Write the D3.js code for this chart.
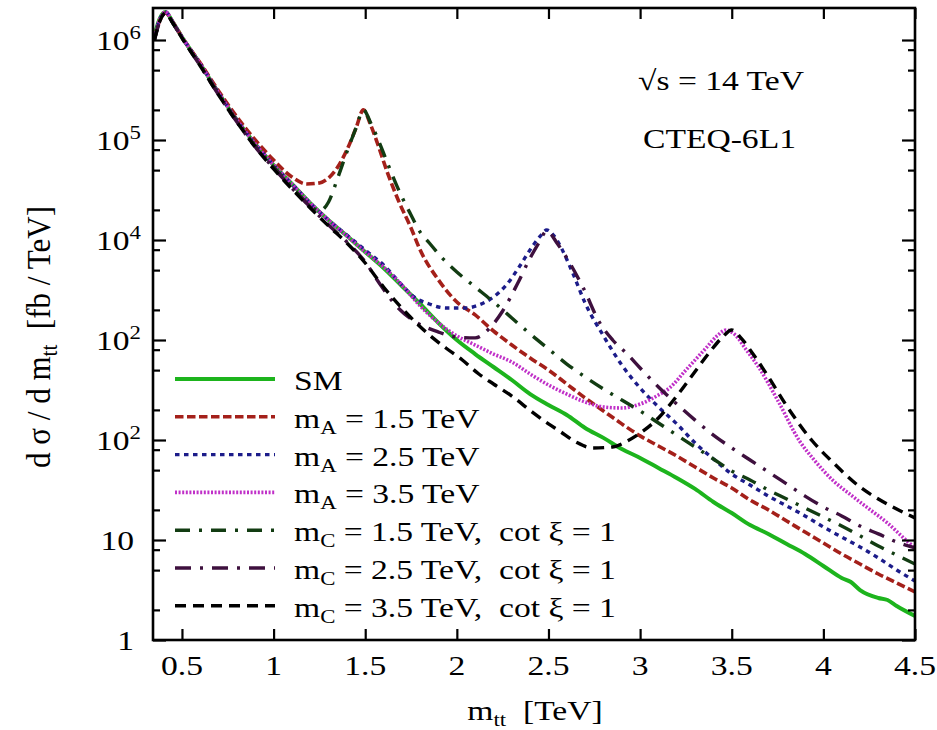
<!DOCTYPE html>
<html>
<head>
<meta charset="utf-8">
<script src="https://cdn.jsdelivr.net/npm/d3@7"></script>
<style>
  html, body { margin: 0; padding: 0; background: #fff; }
  text { font-family: "Liberation Serif", "Times New Roman", serif; white-space: pre; fill: #000; }
</style>
</head>
<body>
<svg id="chart" width="937" height="730"></svg>
<script>
// ---------- data: d sigma / d m_tt  [fb/TeV] versus m_tt [TeV] ----------
const smMass = [0.35,0.38,0.41,0.45,0.5,0.6,0.7,0.8,0.9,1.0,1.1,1.2,1.3,1.4,1.5,1.6,1.7,1.8,1.9,2.0,2.1,2.2,2.3,2.4,2.5,2.6,2.7,2.8,2.9,3.0,3.1,3.2,3.3,3.4,3.5,3.6,3.7,3.8,3.9,4.0,4.1,4.15,4.2,4.3,4.35,4.4,4.5];
const smXsec = [1.12e6,1.66e6,1.91e6,1.51e6,1.07e6,5.75e5,2.95e5,1.58e5,9.12e4,5.62e4,3.63e4,2.34e4,1.58e4,1.10e4,7.59e3,5.25e3,3.47e3,2.29e3,1.48e3,1.00e3,724,537,398,288,224,178,132,105,81.3,66.1,52.5,41.7,32.4,24.0,18.6,14.1,11.5,9.12,7.24,5.50,4.17,3.80,3.16,2.63,2.51,2.19,1.74];

const mA15Mass = [0.35,0.38,0.41,0.45,0.5,0.6,0.7,0.8,0.9,1.0,1.1,1.18,1.25,1.3,1.35,1.4,1.45,1.49,1.53,1.57,1.62,1.68,1.75,1.8,1.9,2.0,2.1,2.2,2.3,2.4,2.5,2.6,2.7,2.8,2.9,3.0,3.1,3.2,3.3,3.4,3.5,3.6,3.7,3.8,3.9,4.0,4.1,4.2,4.3,4.4,4.5];
const mA15Xsec = [1.05e6,1.58e6,1.86e6,1.51e6,1.07e6,5.89e5,3.09e5,1.70e5,1.00e5,6.31e4,4.27e4,3.63e4,3.72e4,4.17e4,5.37e4,7.94e4,1.32e5,2.00e5,1.41e5,8.91e4,4.79e4,2.51e4,1.32e4,7.94e3,3.98e3,2.40e3,1.78e3,1.23e3,891,661,501,363,263,195,145,110,87.1,69.2,53.7,41.7,33.1,25.1,20.0,15.5,12.0,9.33,7.24,5.75,4.57,3.72,3.02];

const mA25Mass = [0.35,0.38,0.41,0.45,0.5,0.6,0.7,0.8,0.9,1.0,1.1,1.2,1.3,1.4,1.5,1.6,1.7,1.76,1.85,1.94,2.05,2.12,2.2,2.27,2.34,2.41,2.46,2.49,2.53,2.57,2.63,2.7,2.8,2.9,3.0,3.1,3.2,3.3,3.4,3.5,3.6,3.7,3.8,3.9,4.0,4.1,4.2,4.3,4.4,4.5];
const mA25Xsec = [1.10e6,1.62e6,1.91e6,1.51e6,1.07e6,5.75e5,2.95e5,1.58e5,9.12e4,5.62e4,3.63e4,2.34e4,1.58e4,1.12e4,7.94e3,5.62e3,3.55e3,2.75e3,2.29e3,2.09e3,2.09e3,2.24e3,2.69e3,3.55e3,5.37e3,8.51e3,1.12e4,1.26e4,1.10e4,8.32e3,4.79e3,2.34e3,1.10e3,562,331,214,145,93.3,64.6,45.7,35.5,27.5,21.9,17.4,13.5,10.7,8.51,6.61,5.01,3.89];

const mA35Mass = [0.35,0.38,0.41,0.45,0.5,0.6,0.7,0.8,0.9,1.0,1.1,1.2,1.3,1.4,1.5,1.6,1.7,1.8,1.9,2.0,2.1,2.2,2.3,2.4,2.5,2.6,2.7,2.8,2.9,3.0,3.1,3.16,3.25,3.36,3.42,3.47,3.52,3.58,3.65,3.75,3.87,3.95,4.05,4.15,4.25,4.35,4.45,4.5];
const mA35Xsec = [1.07e6,1.62e6,1.91e6,1.51e6,1.07e6,5.75e5,2.95e5,1.58e5,9.12e4,5.62e4,3.63e4,2.34e4,1.58e4,1.10e4,7.59e3,5.37e3,3.55e3,2.19e3,1.48e3,1.10e3,891,724,603,457,355,288,240,214,209,229,282,331,501,832,1.10e3,1.26e3,1.12e3,794,525,251,97.7,63.1,39.8,28.2,20.4,14.8,10.0,8.32];

const mC15Mass = [0.35,0.38,0.41,0.45,0.5,0.6,0.7,0.8,0.9,1.0,1.1,1.2,1.25,1.3,1.35,1.4,1.45,1.49,1.53,1.58,1.63,1.69,1.75,1.8,1.85,1.91,2.0,2.1,2.2,2.3,2.4,2.5,2.6,2.7,2.8,2.9,3.0,3.1,3.2,3.3,3.4,3.5,3.6,3.7,3.8,3.9,4.0,4.1,4.2,4.3,4.4,4.5];
const mC15Xsec = [1.00e6,1.58e6,1.86e6,1.48e6,1.05e6,5.62e5,2.88e5,1.55e5,8.71e4,5.37e4,3.39e4,2.19e4,1.95e4,2.40e4,4.17e4,7.59e4,1.32e5,2.00e5,1.48e5,9.12e4,5.37e4,2.95e4,1.78e4,1.20e4,9.33e3,6.92e3,4.79e3,3.39e3,2.40e3,1.66e3,1.15e3,813,575,427,324,251,195,148,112,85.1,64.6,49.0,39.8,31.6,25.7,20.9,17.0,13.8,11.0,8.71,7.08,5.75];

const mC25Mass = [0.35,0.38,0.41,0.45,0.5,0.6,0.7,0.8,0.9,1.0,1.1,1.2,1.3,1.4,1.5,1.58,1.68,1.76,1.9,2.0,2.1,2.18,2.25,2.33,2.4,2.45,2.49,2.55,2.6,2.69,2.78,2.85,2.93,3.0,3.1,3.2,3.3,3.4,3.5,3.6,3.7,3.8,3.9,4.0,4.1,4.2,4.3,4.4,4.5];
const mC25Xsec = [1.00e6,1.55e6,1.86e6,1.48e6,1.05e6,5.50e5,2.82e5,1.51e5,8.51e4,5.25e4,3.31e4,2.14e4,1.41e4,9.55e3,6.03e3,3.63e3,2.09e3,1.58e3,1.20e3,1.07e3,1.05e3,1.32e3,1.95e3,3.63e3,6.61e3,9.55e3,1.23e4,9.12e3,6.61e3,3.31e3,1.48e3,1.00e3,724,525,339,229,158,112,83.2,63.1,47.9,36.3,27.5,21.4,17.4,13.8,11.5,9.55,8.32];

const mC35Mass = [0.35,0.38,0.41,0.45,0.5,0.6,0.7,0.8,0.9,1.0,1.1,1.2,1.3,1.4,1.5,1.6,1.73,1.85,1.94,2.03,2.12,2.2,2.3,2.41,2.5,2.56,2.65,2.74,2.85,2.93,3.0,3.1,3.2,3.29,3.38,3.45,3.5,3.55,3.62,3.69,3.8,3.94,4.05,4.2,4.3,4.4,4.5];
const mC35Xsec = [1.00e6,1.55e6,1.86e6,1.48e6,1.05e6,5.50e5,2.82e5,1.51e5,8.51e4,5.13e4,3.24e4,2.09e4,1.38e4,9.33e3,5.89e3,3.39e3,1.82e3,1.12e3,832,631,457,363,275,191,145,123,95.5,83.2,85.1,97.7,117,166,275,457,759,1.07e3,1.26e3,1.05e3,708,457,219,97.7,60.3,33.9,25.7,20.4,16.6];

// axis ticks and their printed labels
const xTickValues = [0.5, 1, 1.5, 2, 2.5, 3, 3.5, 4, 4.5];
const xTickLabels = ["0.5", "1", "1.5", "2", "2.5", "3", "3.5", "4", "4.5"];
const yTickValues = [1, 10, 100, 1000, 1e4, 1e5, 1e6];
const yTickBase   = ["1", "10", "10", "10", "10", "10", "10"];
const yTickExp    = ["",  "",   "2",  "2",  "4",  "5",  "6"];
const yMinorValues = [2,5,8, 20,50,80, 200,500,800, 2e3,5e3,8e3, 2e4,5e4,8e4, 2e5,5e5,8e5];

// legend entries: [main text, subscript, trailing text]
const legendLabels = [
  ["SM", "", ""],
  ["m", "A", " = 1.5 TeV"],
  ["m", "A", " = 2.5 TeV"],
  ["m", "A", " = 3.5 TeV"],
  ["m", "C", " = 1.5 TeV,  cot \u03BE = 1"],
  ["m", "C", " = 2.5 TeV,  cot \u03BE = 1"],
  ["m", "C", " = 3.5 TeV,  cot \u03BE = 1"]
];

// ---------- drawing ----------
const seriesData = [
  [smMass, smXsec], [mA15Mass, mA15Xsec], [mA25Mass, mA25Xsec], [mA35Mass, mA35Xsec],
  [mC15Mass, mC15Xsec], [mC25Mass, mC25Xsec], [mC35Mass, mC35Xsec]
];
const seriesStyle = [
  { color: "#1db41d", dash: null,          width: 4.0 },
  { color: "#a4201a", dash: "8.5,3.5",     width: 3.6 },
  { color: "#1c1c8a", dash: "4.5,4.5",     width: 3.4 },
  { color: "#c030c8", dash: "2,1.6",       width: 3.6 },
  { color: "#123c12", dash: "15,9,3,9",    width: 3.4 },
  { color: "#3e103e", dash: "16,9,3,9",    width: 3.4 },
  { color: "#000000", dash: "11,7",        width: 3.4 }
];

const svg = d3.select("#chart");
svg.append("rect").attr("width", 937).attr("height", 730).attr("fill", "#fff");

const plot = { left: 153, right: 915, top: 8, bottom: 640 };
const x = d3.scaleLinear().domain([0.342, 4.5]).range([plot.left, plot.right]);
const y = d3.scaleLog().domain([1, Math.pow(10, 6.32)]).range([plot.bottom, plot.top]);

const SX = 1.2; // horizontal text stretch
const FS = 28;

// text helper: segments [{t, shift, size}]
function richText(parent, px, py, anchor, segments, rotate, sy) {
  const g = parent.append("g")
    .attr("transform", `translate(${px},${py}) scale(${SX},${sy || 1})` + (rotate ? ` rotate(${rotate})` : ""));
  const t = g.append("text").attr("text-anchor", anchor).attr("font-size", FS);
  let cur = 0;
  segments.forEach(s => {
    if (!s.t) return;
    const shift = s.shift || 0;
    t.append("tspan")
      .attr("dy", shift - cur)
      .attr("font-size", s.size || FS)
      .text(s.t);
    cur = shift;
  });
  return t;
}

svg.append("clipPath").attr("id", "plotClip")
  .append("rect")
  .attr("x", plot.left).attr("y", plot.top)
  .attr("width", plot.right - plot.left).attr("height", plot.bottom - plot.top);

const line = d3.line()
  .x(d => x(d[0]))
  .y(d => y(d[1]))
  .curve(d3.curveMonotoneX);

const curves = svg.append("g").attr("clip-path", "url(#plotClip)");
seriesData.forEach(([m, v], i) => {
  const st = seriesStyle[i];
  curves.append("path")
    .datum(d3.zip(m, v))
    .attr("d", line)
    .attr("fill", "none")
    .attr("stroke", st.color)
    .attr("stroke-width", st.width)
    .attr("stroke-dasharray", st.dash)
    .attr("stroke-linejoin", "round");
});

// axes: inward ticks on all four sides
function styleAxis(g) {
  g.select(".domain").remove();
  g.selectAll(".tick line").attr("stroke", "#000").attr("stroke-width", 2.2);
  g.selectAll(".tick text").remove();
}
svg.append("g").attr("transform", `translate(0,${plot.bottom})`)
  .call(d3.axisBottom(x).tickValues(xTickValues).tickSizeInner(-11).tickSizeOuter(0).tickFormat(""))
  .call(styleAxis);
svg.append("g").attr("transform", `translate(0,${plot.top})`)
  .call(d3.axisTop(x).tickValues(xTickValues).tickSizeInner(-11).tickSizeOuter(0).tickFormat(""))
  .call(styleAxis);
svg.append("g").attr("transform", `translate(${plot.left},0)`)
  .call(d3.axisLeft(y).tickValues(yTickValues).tickSizeInner(-13).tickSizeOuter(0).tickFormat(""))
  .call(styleAxis);
svg.append("g").attr("transform", `translate(${plot.left},0)`)
  .call(d3.axisLeft(y).tickValues(yMinorValues).tickSizeInner(-7).tickSizeOuter(0).tickFormat(""))
  .call(styleAxis);
svg.append("g").attr("transform", `translate(${plot.right},0)`)
  .call(d3.axisRight(y).tickValues(yTickValues).tickSizeInner(-13).tickSizeOuter(0).tickFormat(""))
  .call(styleAxis);
svg.append("g").attr("transform", `translate(${plot.right},0)`)
  .call(d3.axisRight(y).tickValues(yMinorValues).tickSizeInner(-7).tickSizeOuter(0).tickFormat(""))
  .call(styleAxis);

// frame
svg.append("rect")
  .attr("x", plot.left).attr("y", plot.top)
  .attr("width", plot.right - plot.left).attr("height", plot.bottom - plot.top)
  .attr("fill", "none").attr("stroke", "#000").attr("stroke-width", 2.6);

// tick labels
const labels = svg.append("g");
xTickValues.forEach((v, i) => {
  richText(labels, x(v), plot.bottom + 35, "middle", [{ t: xTickLabels[i] }]);
});
yTickValues.forEach((v, i) => {
  const hasExp = yTickExp[i] !== "";
  richText(labels, hasExp ? 141 : 134, y(v) + 10, "end",
    [{ t: yTickBase[i] }, { t: yTickExp[i], shift: -11, size: 19 }]);
});

// axis titles
richText(labels, 535, 720, "middle",
  [{ t: "m" }, { t: "tt", shift: 6, size: 19 }, { t: "  [TeV]", shift: 0 }]);
richText(labels, 50, 337, "middle",
  [{ t: "d \u03C3 / d m" }, { t: "tt", shift: 6, size: 19 }, { t: "  [fb / TeV]", shift: 0 }], -90, 1.11);

// annotations
richText(labels, 638, 90, "start", [{ t: "\u221As = 14 TeV" }]);
richText(labels, 643, 148, "start", [{ t: "CTEQ-6L1" }]);

// legend
const legend = svg.append("g");
legendLabels.forEach((lab, i) => {
  const ly = 379 + i * 37.8;
  const st = seriesStyle[i];
  legend.append("line")
    .attr("x1", 175).attr("x2", 275).attr("y1", ly).attr("y2", ly)
    .attr("stroke", st.color)
    .attr("stroke-width", st.width)
    .attr("stroke-dasharray", st.dash);
  richText(legend, 294, ly + 11, "start",
    [{ t: lab[0] }, { t: lab[1], shift: 6, size: 19 }, { t: lab[2], shift: 0 }]);
});
</script>
</body>
</html>
